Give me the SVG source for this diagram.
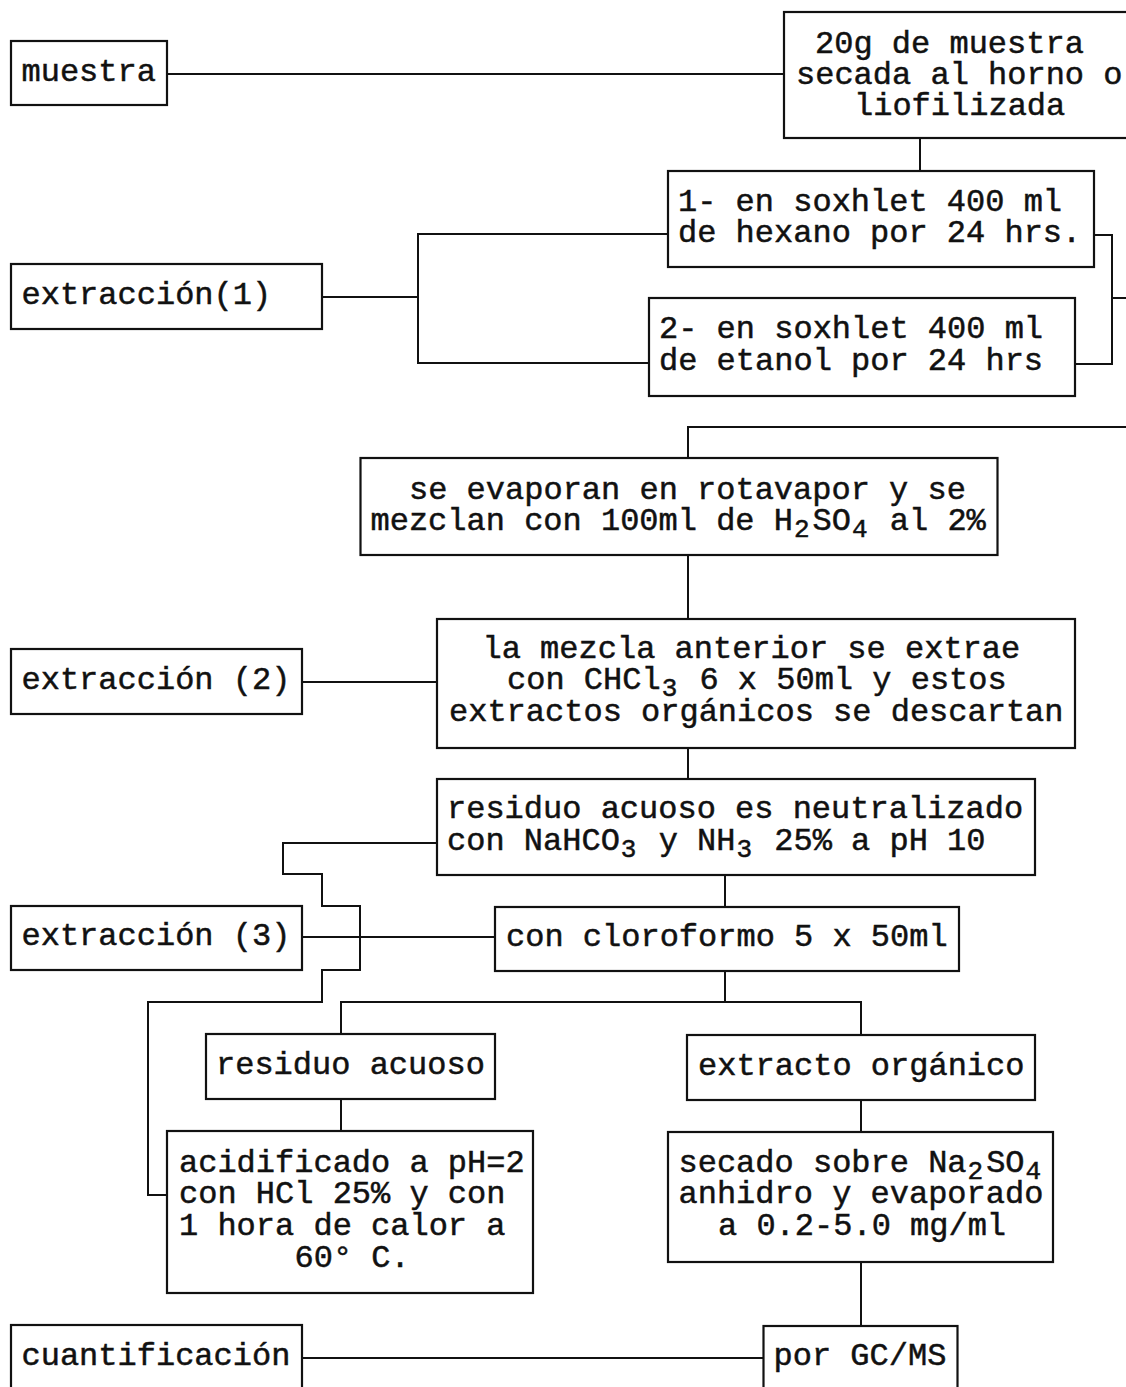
<svg xmlns="http://www.w3.org/2000/svg" width="1126" height="1387" viewBox="0 0 1126 1387">
<style>
.box{fill:#fff;stroke:#111;stroke-width:2.2}
.ln{fill:none;stroke:#111;stroke-width:2}
text{font-family:"Liberation Mono","Courier New",monospace;font-size:32px;fill:#111;stroke:#111;stroke-width:0.5}
.sub{font-size:26px}
</style>
<rect width="1126" height="1387" fill="#fff"/>
<g id="connectors">
<polyline class="ln" points="167,74 784,74"/>
<polyline class="ln" points="920,138 920,171"/>
<polyline class="ln" points="322,297 418,297"/>
<polyline class="ln" points="668,234 418,234 418,363 649,363"/>
<polyline class="ln" points="1094,235 1112,235 1112,364 1075,364"/>
<polyline class="ln" points="1112,298 1130,298"/>
<polyline class="ln" points="688,458 688,427 1130,427"/>
<polyline class="ln" points="688,555 688,619"/>
<polyline class="ln" points="302,682 437,682"/>
<polyline class="ln" points="688,748 688,779"/>
<polyline class="ln" points="437,843 283,843 283,874 322,874 322,906 360,906 360,970 322,970 322,1002 148,1002 148,1195 167,1195"/>
<polyline class="ln" points="302,937 495,937"/>
<polyline class="ln" points="725,875 725,907"/>
<polyline class="ln" points="725,971 725,1002"/>
<polyline class="ln" points="341,1034 341,1002 861,1002 861,1035"/>
<polyline class="ln" points="341,1099 341,1131"/>
<polyline class="ln" points="861,1100 861,1132"/>
<polyline class="ln" points="861,1262 861,1326"/>
<polyline class="ln" points="302,1358 763,1358"/>
</g>
<g id="n-muestra"><rect class="box" x="11" y="41" width="156" height="64"/><text x="21.5" y="81">muestra</text></g>
<g id="n-20g"><rect class="box" x="784" y="12" width="360" height="126"/>
<text x="815" y="53">20g de muestra</text><text x="796" y="84">secada al horno o</text><text x="854" y="115">liofilizada</text></g>
<g id="n-hexano"><rect class="box" x="668" y="171" width="426" height="96"/>
<text x="678" y="211">1- en soxhlet 400 ml</text><text x="678" y="242">de hexano por 24 hrs.</text></g>
<g id="n-etanol"><rect class="box" x="649" y="298" width="426" height="98"/>
<text x="659" y="338">2- en soxhlet 400 ml</text><text x="659" y="370">de etanol por 24 hrs</text></g>
<g id="n-ext1"><rect class="box" x="11" y="264" width="311" height="65"/><text x="21.5" y="304">extracción(1)</text></g>
<g id="n-evaporan"><rect class="box" x="360.5" y="458" width="637" height="97"/>
<text x="409" y="499">se evaporan en rotavapor y se</text>
<text x="370.5" y="530">mezclan con 100ml de H<tspan class="sub" dy="7" dx="1">2</tspan><tspan dy="-7" dx="3">SO</tspan><tspan class="sub" dy="7" dx="1">4</tspan><tspan dy="-7" dx="3"> al 2%</tspan></text></g>
<g id="n-mezcla"><rect class="box" x="437" y="619" width="638" height="129"/>
<text x="482.5" y="658">la mezcla anterior se extrae</text>
<text x="507" y="689">con CHCl<tspan class="sub" dy="7" dx="1">3</tspan><tspan dy="-7" dx="3"> 6 x 50ml y estos</tspan></text>
<text x="449" y="721">extractos orgánicos se descartan</text></g>
<g id="n-ext2"><rect class="box" x="11" y="649" width="291" height="65"/><text x="21.5" y="689">extracción (2)</text></g>
<g id="n-neutral"><rect class="box" x="437" y="779" width="598" height="96"/>
<text x="447" y="818">residuo acuoso es neutralizado</text>
<text x="447" y="850">con NaHCO<tspan class="sub" dy="7" dx="1">3</tspan><tspan dy="-7" dx="3"> y NH</tspan><tspan class="sub" dy="7" dx="1">3</tspan><tspan dy="-7" dx="3"> 25% a pH 10</tspan></text></g>
<g id="n-ext3"><rect class="box" x="11" y="906" width="291" height="64"/><text x="21.5" y="945">extracción (3)</text></g>
<g id="n-cloroformo"><rect class="box" x="495" y="907" width="464" height="64"/><text x="506" y="946">con cloroformo 5 x 50ml</text></g>
<g id="n-residuo"><rect class="box" x="206" y="1034" width="289" height="65"/><text x="216" y="1074">residuo acuoso</text></g>
<g id="n-extracto"><rect class="box" x="687" y="1035" width="348" height="65"/><text x="698" y="1075">extracto orgánico</text></g>
<g id="n-acidificado"><rect class="box" x="167" y="1131" width="366" height="162"/>
<text x="179" y="1172">acidificado a pH=2</text><text x="179" y="1203">con HCl 25% y con</text><text x="179" y="1235">1 hora de calor a</text><text x="294.5" y="1267">60° C.</text></g>
<g id="n-secado"><rect class="box" x="668" y="1132" width="385" height="130"/>
<text x="678.5" y="1172">secado sobre Na<tspan class="sub" dy="7" dx="1">2</tspan><tspan dy="-7" dx="3">SO</tspan><tspan class="sub" dy="7" dx="1">4</tspan></text>
<text x="678.5" y="1203">anhidro y evaporado</text><text x="718" y="1235">a 0.2-5.0 mg/ml</text></g>
<g id="n-cuant"><rect class="box" x="11" y="1325" width="291" height="80"/><text x="21.5" y="1365">cuantificación</text></g>
<g id="n-gcms"><rect class="box" x="763.5" y="1326" width="194" height="80"/><text x="773.5" y="1365">por GC/MS</text></g>
</svg>
